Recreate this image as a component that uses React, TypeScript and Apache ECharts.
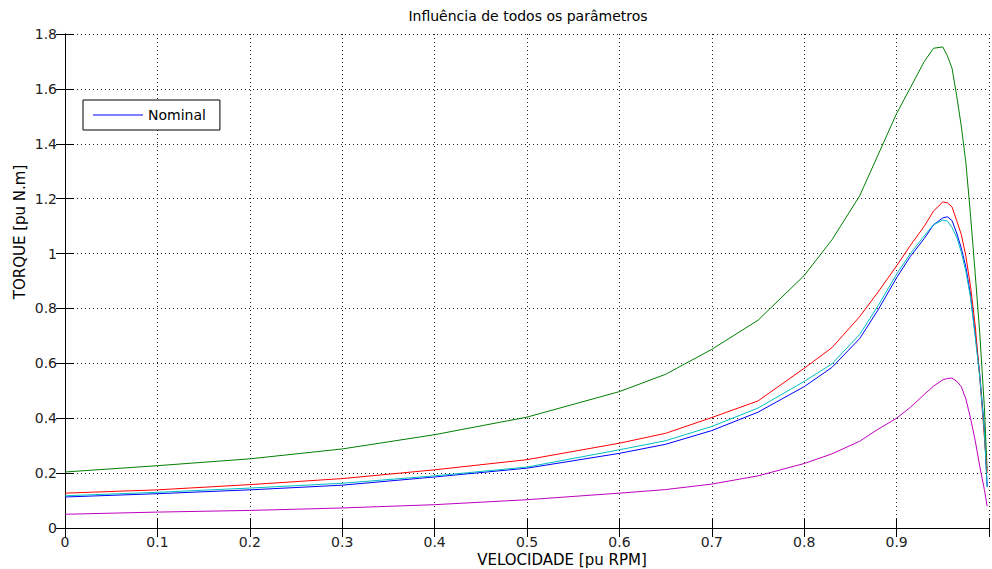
import React, { useEffect, useRef } from "react";
import * as echarts from "echarts";

const speed = [0, 0.1, 0.2, 0.3, 0.4, 0.5, 0.6, 0.65, 0.7, 0.75, 0.8, 0.83, 0.86, 0.88, 0.9, 0.915, 0.93, 0.94, 0.95, 0.955, 0.96, 0.965, 0.97, 0.975, 0.98, 0.985, 0.99, 0.995, 0.998];

const torqueNominal = [0.113, 0.125, 0.139, 0.156, 0.186, 0.218, 0.272, 0.305, 0.355, 0.422, 0.515, 0.585, 0.69, 0.795, 0.912, 0.99, 1.055, 1.105, 1.13, 1.134, 1.12, 1.075, 1.02, 0.95, 0.85, 0.71, 0.56, 0.36, 0.15];
const torqueGreen = [0.204, 0.227, 0.252, 0.288, 0.34, 0.404, 0.497, 0.56, 0.651, 0.757, 0.92, 1.05, 1.21, 1.36, 1.51, 1.605, 1.7, 1.748, 1.753, 1.72, 1.675, 1.575, 1.465, 1.33, 1.14, 0.93, 0.71, 0.44, 0.21];
const torqueRed = [0.127, 0.139, 0.158, 0.18, 0.212, 0.249, 0.309, 0.345, 0.4025, 0.463, 0.582, 0.657, 0.77, 0.86, 0.955, 1.03, 1.1, 1.155, 1.188, 1.185, 1.17, 1.12, 1.07, 0.99, 0.88, 0.74, 0.55, 0.33, 0.2];
const torqueCyan = [0.1175, 0.13, 0.1455, 0.163, 0.19, 0.222, 0.285, 0.318, 0.37, 0.437, 0.534, 0.598, 0.705, 0.81, 0.925, 1.0, 1.065, 1.105, 1.122, 1.118, 1.095, 1.06, 1.005, 0.935, 0.84, 0.7, 0.55, 0.35, 0.15];
const torqueMagenta = [0.05, 0.058, 0.064, 0.073, 0.085, 0.103, 0.127, 0.14, 0.16, 0.19, 0.235, 0.27, 0.316, 0.36, 0.4, 0.44, 0.487, 0.517, 0.54, 0.545, 0.546, 0.535, 0.515, 0.47, 0.4, 0.32, 0.225, 0.14, 0.079];

const seriesDefs = [
  { name: "Nominal", color: "#0000ff", values: torqueNominal },
  { name: "Curva 2", color: "#008000", values: torqueGreen },
  { name: "Curva 3", color: "#ff0000", values: torqueRed },
  { name: "Curva 4", color: "#00bfbf", values: torqueCyan },
  { name: "Curva 5", color: "#bf00bf", values: torqueMagenta },
];

const titleText = "Influência de todos os parâmetros";
const xName = "VELOCIDADE [pu RPM]";
const yName = "TORQUE [pu N.m]";
const legendItems = ["Nominal"];

const FONT = '"DejaVu Sans", "Liberation Sans", sans-serif';

const fmt = (v: number) => {
  if (v > 0.999) return "";
  return String(+v.toFixed(1));
};
const fmtY = (v: number) => String(+v.toFixed(1));

export default function App() {
  const ref = useRef<HTMLDivElement>(null);
  useEffect(() => {
    if (!ref.current) return;
    const chart = echarts.init(ref.current, undefined, { renderer: "svg" });
    const axisLine = { show: true, lineStyle: { color: "#000", width: 1 } };
    const axisTick = { show: true, inside: true, length: 9, lineStyle: { color: "#000", width: 1 } };
    const splitLine = { show: true, lineStyle: { color: "#222", width: 1, type: [1, 3] } };
    const label = { color: "#222", fontSize: 14, fontFamily: FONT, margin: 7 };
    const option: any = {
      animation: false,
      backgroundColor: "#ffffff",
      grid: { left: 65, top: 34, width: 928, height: 494, show: false },
      xAxis: [
        {
          type: "value", min: 0, max: 1, interval: 0.1, position: "bottom",
          axisLine, axisTick, splitLine,
          axisLabel: { ...label, formatter: fmt, lineHeight: 14 },
        },
        {
          type: "value", min: 0, max: 1, interval: 0.1, position: "top",
          axisLine, axisTick, splitLine: { show: false },
          axisLabel: { show: false },
        },
      ],
      yAxis: [
        {
          type: "value", min: 0, max: 1.8, interval: 0.2, position: "left",
          axisLine, axisTick, splitLine,
          axisLabel: { ...label, formatter: fmtY, margin: 8 },
        },
        {
          type: "value", min: 0, max: 1.8, interval: 0.2, position: "right",
          axisLine, axisTick, splitLine: { show: false },
          axisLabel: { show: false },
        },
      ],
      legend: {
        data: legendItems.map((n) => ({ name: n, icon: "rect" })),
        left: 83,
        top: 100,
        orient: "vertical",
        padding: [8, 14, 8, 10],
        itemWidth: 50,
        itemHeight: 1,
        backgroundColor: "#ffffff",
        borderColor: "#000",
        borderWidth: 1,
        borderRadius: 0,
        selectedMode: false,
        textStyle: { fontSize: 14, fontFamily: FONT, color: "#000" },
      },
      series: seriesDefs.map((s) => ({
        name: s.name,
        type: "line",
        xAxisIndex: 0,
        yAxisIndex: 0,
        showSymbol: false,
        symbol: "none",
        color: s.color,
        lineStyle: { color: s.color, width: 1 },
        data: speed.map((x, i) => [x, s.values[i]]),
      })),
      graphic: [
        {
          type: "text", x: 528, y: 16,
          style: { text: titleText, font: `14px ${FONT}`, fill: "#000", align: "center", verticalAlign: "middle", textAlign: "center", textVerticalAlign: "middle" },
        },
        {
          type: "text", x: 562, y: 560,
          style: { text: xName, font: `15px ${FONT}`, fill: "#000", align: "center", verticalAlign: "middle", textAlign: "center", textVerticalAlign: "middle" },
        },
        {
          type: "text", x: 20, y: 232, rotation: Math.PI / 2,
          style: { text: yName, font: `15px ${FONT}`, fill: "#000", align: "center", verticalAlign: "middle", textAlign: "center", textVerticalAlign: "middle" },
        },
      ],
    };
    chart.setOption(option);
    return () => chart.dispose();
  }, []);
  return (
    <div
      ref={ref}
      style={{ position: "fixed", left: 0, top: 0, width: 992, height: 569, background: "#fff" }}
    />
  );
}
